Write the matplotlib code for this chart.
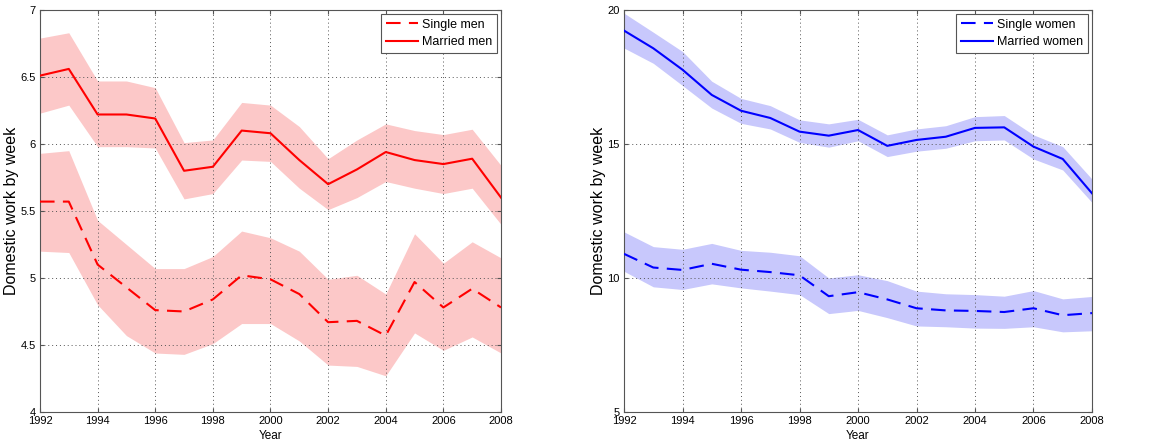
import numpy as np
import matplotlib.pyplot as plt

plt.rcParams['font.family'] = ['Liberation Sans', 'DejaVu Sans']

years = np.arange(1992, 2009)

# men: mean hours and confidence bands
married_men = [6.51, 6.56, 6.22, 6.22, 6.19, 5.80, 5.83, 6.10, 6.08, 5.88, 5.70, 5.81, 5.94, 5.88, 5.85, 5.89, 5.60]
married_men_hi = [6.79, 6.83, 6.47, 6.47, 6.42, 6.01, 6.03, 6.31, 6.29, 6.13, 5.89, 6.03, 6.15, 6.10, 6.07, 6.11, 5.84]
married_men_lo = [6.23, 6.29, 5.98, 5.98, 5.97, 5.59, 5.63, 5.88, 5.87, 5.67, 5.51, 5.60, 5.72, 5.67, 5.63, 5.67, 5.40]
single_men = [5.57, 5.57, 5.10, 4.93, 4.76, 4.75, 4.84, 5.02, 4.99, 4.88, 4.67, 4.68, 4.57, 4.97, 4.78, 4.92, 4.78]
single_men_hi = [5.93, 5.95, 5.43, 5.25, 5.07, 5.07, 5.16, 5.35, 5.30, 5.20, 4.99, 5.02, 4.88, 5.33, 5.11, 5.27, 5.15]
single_men_lo = [5.20, 5.19, 4.80, 4.57, 4.44, 4.43, 4.51, 4.66, 4.66, 4.53, 4.35, 4.34, 4.27, 4.59, 4.46, 4.56, 4.44]

# women
married_women = [19.23, 18.57, 17.77, 16.83, 16.24, 15.97, 15.46, 15.31, 15.52, 14.93, 15.15, 15.27, 15.60, 15.62, 14.90, 14.44, 13.16]
married_women_hi = [19.88, 19.17, 18.45, 17.34, 16.70, 16.43, 15.90, 15.75, 15.92, 15.34, 15.56, 15.68, 16.02, 16.06, 15.34, 14.90, 13.69]
married_women_lo = [18.58, 18.01, 17.18, 16.34, 15.77, 15.56, 15.06, 14.88, 15.12, 14.53, 14.73, 14.84, 15.12, 15.15, 14.44, 14.03, 12.82]
single_women = [10.90, 10.39, 10.30, 10.53, 10.31, 10.22, 10.10, 9.32, 9.47, 9.20, 8.87, 8.79, 8.77, 8.73, 8.87, 8.61, 8.69]
single_women_hi = [11.72, 11.17, 11.07, 11.29, 11.03, 10.96, 10.83, 10.00, 10.12, 9.90, 9.51, 9.41, 9.38, 9.32, 9.53, 9.22, 9.31]
single_women_lo = [10.25, 9.67, 9.57, 9.78, 9.63, 9.51, 9.38, 8.67, 8.79, 8.52, 8.21, 8.18, 8.13, 8.12, 8.18, 7.99, 8.03]

fig = plt.figure(figsize=(11.52, 4.41), dpi=100)
ax1 = fig.add_axes([0.0347, 0.0658, 0.4002, 0.9116])
ax2 = fig.add_axes([0.5417, 0.0658, 0.4062, 0.9116])


def panel(ax, color, band, single, s_lo, s_hi, married, m_lo, m_hi, labels, ylim, yticks, ylab_x):
    ax.fill_between(years, s_lo, s_hi, color=band, lw=0, zorder=1)
    ax.fill_between(years, m_lo, m_hi, color=band, lw=0, zorder=1)
    ax.plot(years, single, '--', color=color, lw=1.5, dashes=(7, 4), label=labels[0], zorder=3)
    ax.plot(years, married, '-', color=color, lw=1.5, label=labels[1], zorder=3)
    ax.set_xlim(1992, 2008)
    ax.set_ylim(*ylim)
    ax.set_xticks(np.arange(1992, 2009, 2))
    ax.set_yticks(yticks)
    ax.grid(True, linestyle=(0, (1, 3)), color='#555555', lw=0.7, zorder=2)
    ax.set_axisbelow(False)
    ax.tick_params(direction='in', labelsize=8, pad=3, length=3, color='#555555',
                   top=True, right=True)
    for s in ax.spines.values():
        s.set_color('#555555')
    ax.set_xlabel('Year', fontsize=8.5, labelpad=3)
    ax.set_ylabel('Domestic work by week', fontsize=11.5)
    ax.yaxis.set_label_coords(ylab_x, 0.5)
    leg = ax.legend(loc='upper right', fontsize=9, fancybox=False, framealpha=1,
                    edgecolor='#555555', handlelength=2.6, handletextpad=0.3,
                    borderpad=0.35, labelspacing=0.45, borderaxespad=0.35)
    leg.get_frame().set_linewidth(0.8)


panel(ax1, '#ff0000', '#fcc8c8', single_men, single_men_lo, single_men_hi,
      married_men, married_men_lo, married_men_hi, ['Single men', 'Married men'],
      (4, 7), [4, 4.5, 5, 5.5, 6, 6.5, 7], -0.046)
ax1.set_yticklabels(['4', '4.5', '5', '5.5', '6', '6.5', '7'])
panel(ax2, '#0000ff', '#c8c8fc', single_women, single_women_lo, single_women_hi,
      married_women, married_women_lo, married_women_hi, ['Single women', 'Married women'],
      (5, 20), [5, 10, 15, 20], -0.038)

fig.savefig('out.png', dpi=100)
